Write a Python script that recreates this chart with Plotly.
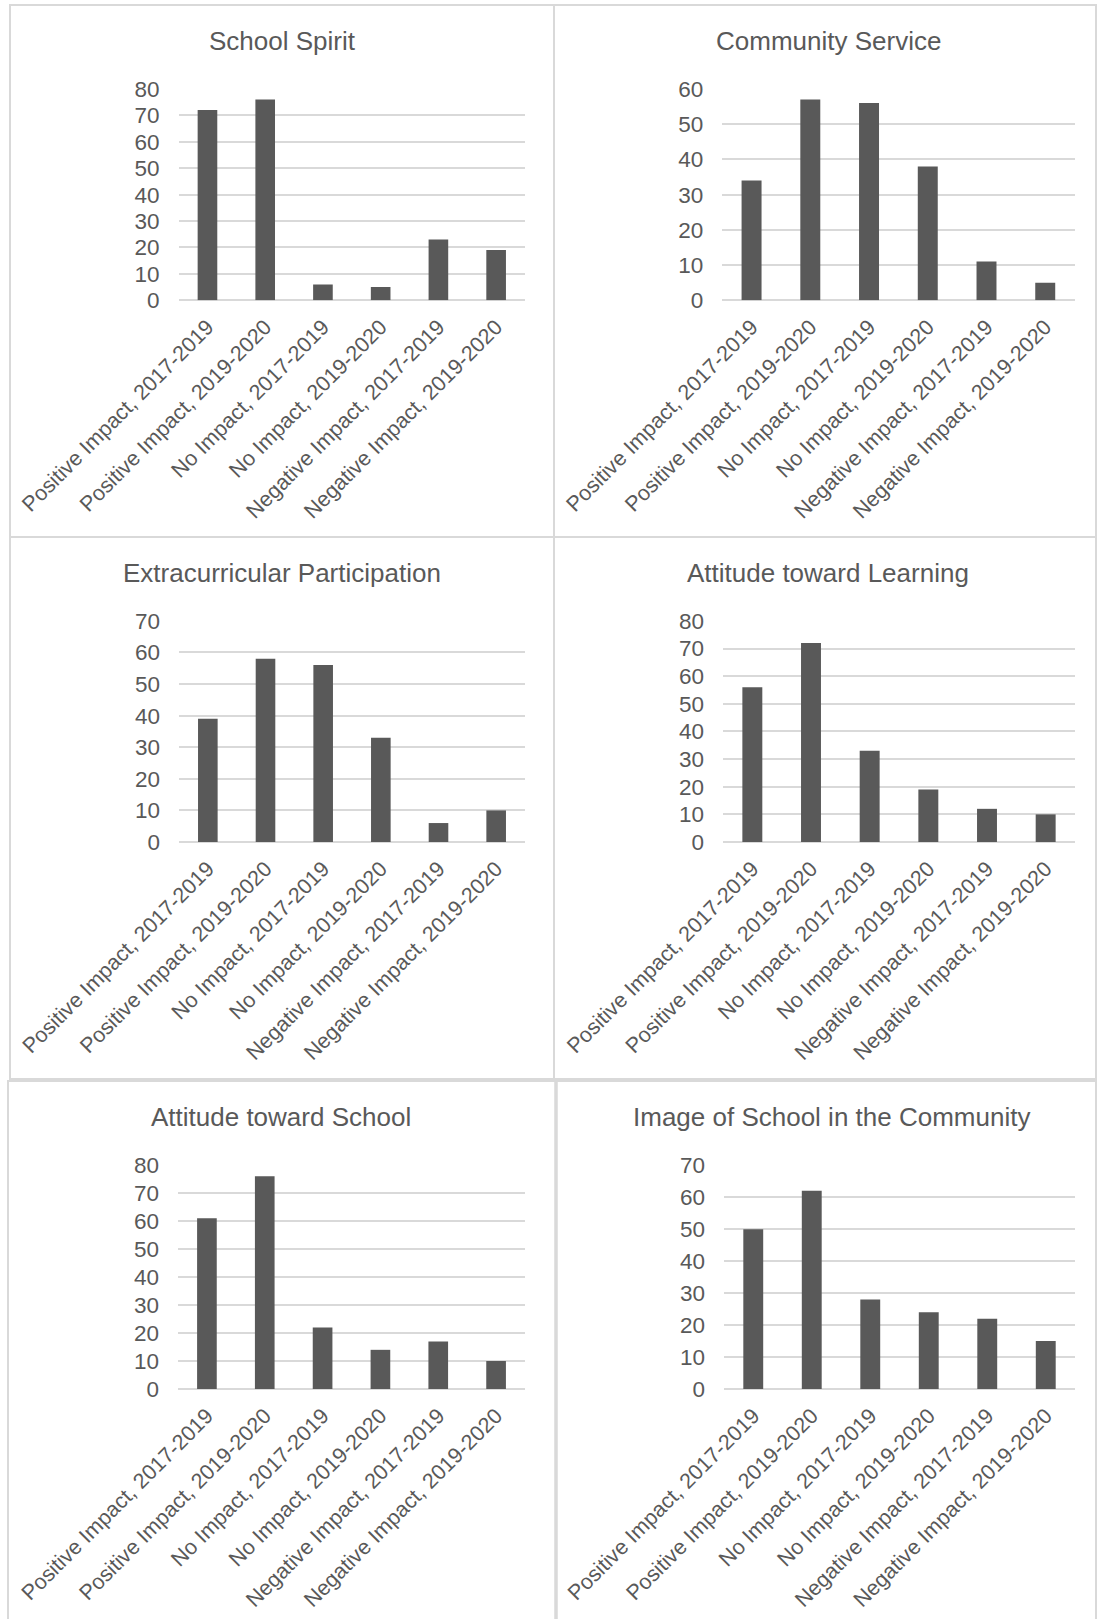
import plotly.graph_objects as go

W, H = 1097, 1619

categories = [
    "Positive Impact, 2017-2019",
    "Positive Impact, 2019-2020",
    "No Impact, 2017-2019",
    "No Impact, 2019-2020",
    "Negative Impact, 2017-2019",
    "Negative Impact, 2019-2020",
]

titles = [
    "School Spirit",
    "Community Service",
    "Extracurricular Participation",
    "Attitude toward Learning",
    "Attitude toward School",
    "Image of School in the Community",
]

school_spirit = [72, 76, 6, 5, 23, 19]
community_service = [34, 57, 56, 38, 11, 5]
extracurricular = [39, 58, 56, 33, 6, 10]
attitude_learning = [56, 72, 33, 19, 12, 10]
attitude_school = [61, 76, 22, 14, 17, 10]
image_community = [50, 62, 28, 24, 22, 15]

y_max = [80, 60, 70, 80, 80, 70]

series = [school_spirit, community_service, extracurricular,
          attitude_learning, attitude_school, image_community]

# plot areas in pixels: (x0, x1, ytop, ybottom)
areas = [
    (178.6, 525.0, 88.8, 300.3),
    (722.2, 1074.6, 88.8, 300.3),
    (179.0, 525.0, 620.7, 842.0),
    (723.0, 1075.0, 620.7, 842.0),
    (178.0, 525.0, 1165.0, 1389.0),
    (724.0, 1075.0, 1165.0, 1389.0),
]
title_pos = [(282, 41), (828, 41), (282, 573), (828, 573), (281, 1117), (831, 1117)]

TXT = "#595959"
GRID = "#d9d9d9"
FONT = "Liberation Sans, Arial, sans-serif"


def px(x):
    return x / W


def py(y):
    return 1 - y / H


fig = go.Figure()
layout = dict(
    width=W, height=H, margin=dict(l=0, r=0, t=0, b=0, pad=0, autoexpand=False),
    paper_bgcolor="white", plot_bgcolor="white", showlegend=False,
    bargap=0.66, font=dict(family=FONT, color=TXT),
)

annotations = []
for i, (vals, ttl, ym, area, tp) in enumerate(zip(series, titles, y_max, areas, title_pos)):
    n = i + 1
    xa = "x" if n == 1 else f"x{n}"
    ya = "y" if n == 1 else f"y{n}"
    fig.add_trace(go.Bar(x=categories, y=vals, xaxis=xa, yaxis=ya,
                         marker=dict(color="#595959", line=dict(width=0)),
                         hoverinfo="x+y"))
    x0, x1, yt, yb = area
    layout[f"xaxis{'' if n == 1 else n}"] = dict(
        domain=[px(x0), px(x1)], anchor=ya, tickangle=-45, automargin=False,
        tickfont=dict(size=21.5, color=TXT, family=FONT),
        showgrid=False, showline=False, zeroline=False, ticks="",
        ticklabelstandoff=9, fixedrange=True,
    )
    layout[f"yaxis{'' if n == 1 else n}"] = dict(
        domain=[py(yb), py(yt)], anchor=xa, range=[0, ym * 1.0008], dtick=10,
        automargin=False,
        tickfont=dict(size=22.5, color=TXT, family=FONT),
        showgrid=True, gridcolor=GRID, gridwidth=1.5,
        zeroline=True, zerolinecolor=GRID, zerolinewidth=1.5,
        showline=False, ticks="", ticklabelstandoff=18, fixedrange=True,
    )
    annotations.append(dict(
        text=ttl, x=px(tp[0]), y=py(tp[1]), xref="paper", yref="paper",
        xanchor="center", yanchor="middle", showarrow=False,
        font=dict(size=26, color=TXT, family=FONT),
    ))

shapes = []
boxes = [
    (10, 5, 554, 537), (554, 5, 1096, 537),
    (10, 537, 554, 1079), (554, 537, 1096, 1079),
    (8, 1081, 556, 1625), (556, 1081, 1096, 1625),
]
for bx0, by0, bx1, by1 in boxes:
    shapes.append(dict(type="rect", xref="paper", yref="paper",
                       x0=px(bx0), x1=px(bx1), y0=py(by1), y1=py(by0),
                       line=dict(color=GRID, width=2), fillcolor="rgba(0,0,0,0)",
                       layer="below"))
# thicker divider in bottom row
shapes.append(dict(type="line", xref="paper", yref="paper",
                   x0=px(556), x1=px(556), y0=py(1625), y1=py(1081),
                   line=dict(color=GRID, width=3.5), layer="below"))

layout["annotations"] = annotations
layout["shapes"] = shapes
fig.update_layout(**layout)
fig.write_html("out.html")
